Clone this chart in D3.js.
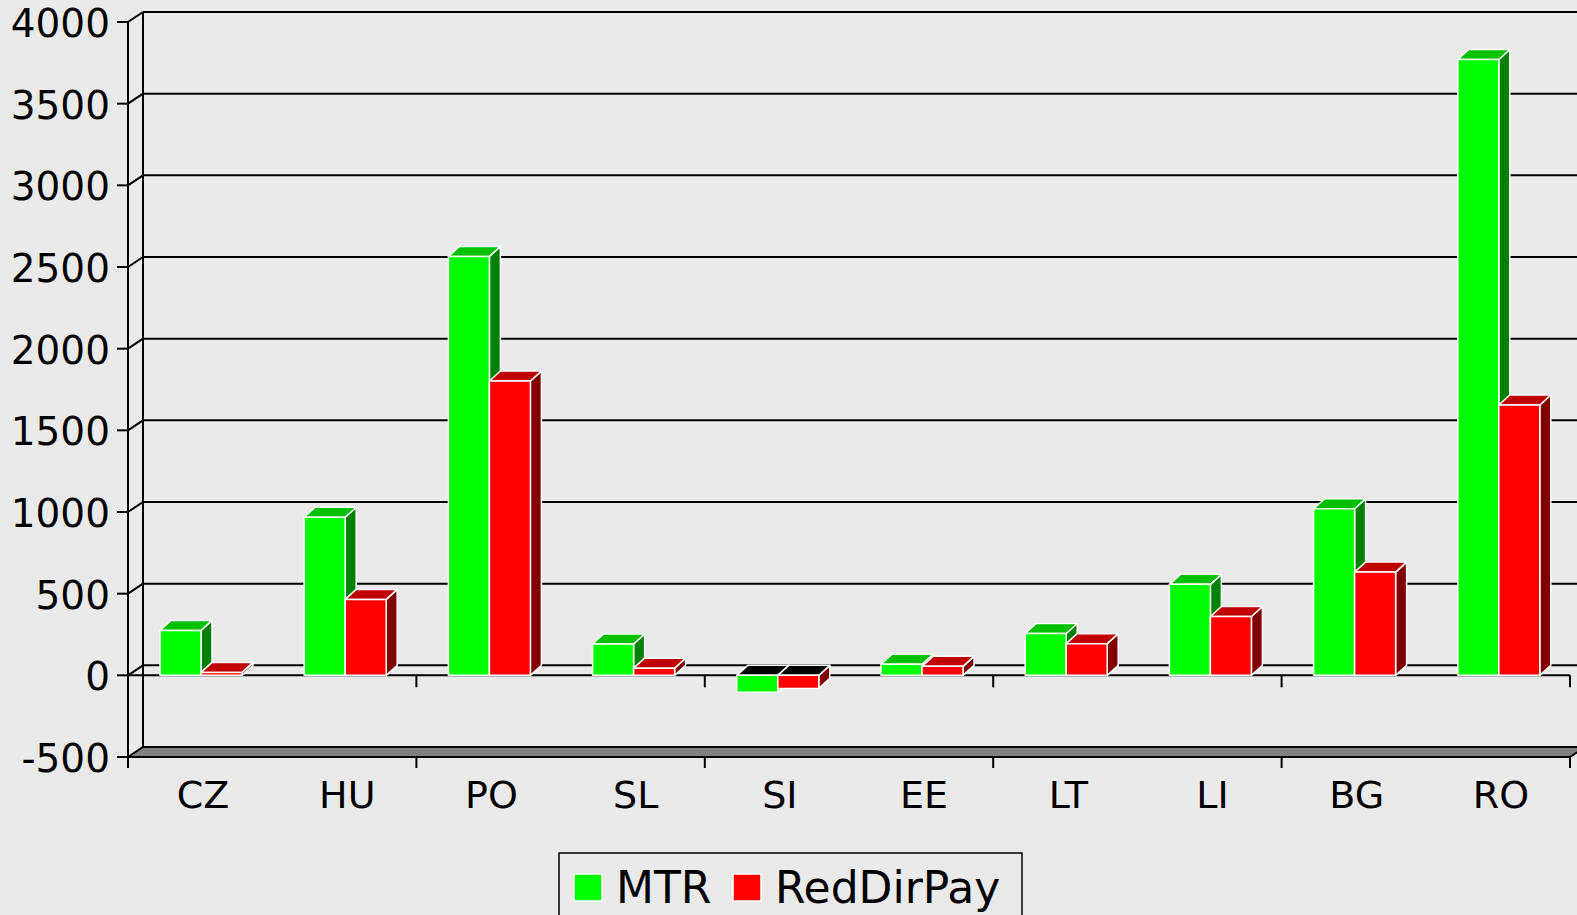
<!doctype html>
<html>
<head>
<meta charset="utf-8">
<script src="https://d3js.org/d3.v7.min.js"></script>
<style>
  body { margin: 0; background: #eaeaea; }
  text { font-family: "DejaVu Sans", Verdana, sans-serif; fill: #000; }
</style>
</head>
<body>
<script>
var categories = ["CZ", "HU", "PO", "SL", "SI", "EE", "LT", "LI", "BG", "RO"];
var mtr = [275, 968, 2565, 192, -104, 68, 256, 557, 1020, 3770];
var redDirPay = [18, 465, 1802, 44, -80, 55, 194, 360, 632, 1655];
var yTicks = [-500, 0, 500, 1000, 1500, 2000, 2500, 3000, 3500, 4000];
var seriesNames = ["MTR", "RedDirPay"];

var width = 1577, height = 915;
var wdx = 15, wdy = -10;   // wall depth
var bdx = 11, bdy = -10;   // bar depth

var styles = [
    { front: "#00ff00", top: "#00c000", side: "#008000" },
    { front: "#ff0000", top: "#c00000", side: "#800000" }
];

var svg = d3.select("body").append("svg")
    .attr("width", width)
    .attr("height", height);

svg.append("rect").attr("width", width).attr("height", height).attr("fill", "#eaeaea");

var y = d3.scaleLinear().domain([-500, 4000]).range([757, 22]);
var x = d3.scaleBand().domain(categories).range([128, 1570]);
var left = 128, right = 1570;

// back wall gridlines
var grid = svg.append("g").attr("stroke", "#000").attr("stroke-width", 2);
yTicks.filter(function(t) { return t > -500; }).forEach(function(t) {
    grid.append("line")
        .attr("x1", left + wdx).attr("x2", width)
        .attr("y1", y(t) + wdy).attr("y2", y(t) + wdy);
    grid.append("line")
        .attr("x1", left).attr("x2", left + wdx)
        .attr("y1", y(t)).attr("y2", y(t) + wdy);
});
grid.append("line")
    .attr("x1", left + wdx).attr("x2", left + wdx)
    .attr("y1", y(4000) + wdy).attr("y2", y(-500) + wdy);

// floor
svg.append("path")
    .attr("d", "M" + left + "," + y(-500) + "L" + (left + wdx) + "," + (y(-500) + wdy) +
        "L" + (width + 5) + "," + (y(-500) + wdy) + "L" + (right + wdx) + "," + (y(-500) + wdy) +
        "L" + right + "," + y(-500) + "Z")
    .attr("fill", "#808080")
    .attr("stroke", "#000").attr("stroke-width", 2);

// front y axis
grid.append("line")
    .attr("x1", left).attr("x2", left)
    .attr("y1", y(4000)).attr("y2", y(-500) + 11);
yTicks.forEach(function(t) {
    grid.append("line")
        .attr("x1", left - 11).attr("x2", left)
        .attr("y1", y(t)).attr("y2", y(t));
});
svg.append("g").selectAll("text")
    .data(yTicks)
    .enter()
        .append("text")
        .attr("x", 110)
        .attr("y", function(d) { return y(d) + 15; })
        .attr("text-anchor", "end")
        .attr("font-size", 39)
        .text(function(d) { return d; });

// front zero line and category ticks
grid.append("line")
    .attr("x1", left).attr("x2", right)
    .attr("y1", y(0)).attr("y2", y(0));
categories.forEach(function(c, i) {
    if (i % 2 === 0) {
        var xx = x(c);
        if (i > 0) grid.append("line").attr("x1", xx).attr("x2", xx).attr("y1", y(0)).attr("y2", y(0) + 12);
        grid.append("line").attr("x1", xx).attr("x2", xx).attr("y1", y(-500)).attr("y2", y(-500) + 11);
    }
});
grid.append("line").attr("x1", right).attr("x2", right).attr("y1", y(0)).attr("y2", y(0) + 12);
grid.append("line").attr("x1", right).attr("x2", right).attr("y1", y(-500)).attr("y2", y(-500) + 11);

// bars
var bw = 41;
var off = 32;
var bars = svg.append("g");
categories.forEach(function(c, i) {
    [mtr[i], redDirPay[i]].forEach(function(v, s) {
        var x0 = x(c) + off + s * bw, x1 = x0 + bw;
        var yt = y(Math.max(v, 0)), yb = y(Math.min(v, 0));
        var st = styles[s];
        var g = bars.append("g").attr("stroke", "#fff").attr("stroke-width", 1.5).attr("stroke-linejoin", "round");
        // side
        g.append("path")
            .attr("d", "M" + x1 + "," + yt + "L" + (x1 + bdx) + "," + (yt + bdy) +
                "L" + (x1 + bdx) + "," + (yb + bdy) + "L" + x1 + "," + yb + "Z")
            .attr("fill", st.side);
        // top
        g.append("path")
            .attr("d", "M" + x0 + "," + yt + "L" + (x0 + bdx) + "," + (yt + bdy) +
                "L" + (x1 + bdx) + "," + (yt + bdy) + "L" + x1 + "," + yt + "Z")
            .attr("fill", v < 0 ? "#000" : st.top);
        // front
        g.append("rect")
            .attr("x", x0).attr("y", yt)
            .attr("width", bw).attr("height", Math.max(yb - yt, 1))
            .attr("fill", st.front);
    });
});

// category labels
svg.append("g").selectAll("text")
    .data(categories)
    .enter()
        .append("text")
        .attr("x", function(d) { return x(d) + x.bandwidth() / 2 + 3; })
        .attr("y", 808)
        .attr("text-anchor", "middle")
        .attr("font-size", 38)
        .text(function(d) { return d; });

// legend
var legend = svg.append("g");
legend.append("rect")
    .attr("x", 559).attr("y", 853).attr("width", 463).attr("height", 80)
    .attr("fill", "none").attr("stroke", "#000").attr("stroke-width", 1.5);
var lx = [574, 733];
seriesNames.forEach(function(n, i) {
    legend.append("rect")
        .attr("x", lx[i]).attr("y", 874).attr("width", 28).attr("height", 27)
        .attr("fill", styles[i].front).attr("stroke", "#fff").attr("stroke-width", 1.5);
    legend.append("text")
        .attr("x", lx[i] + 42).attr("y", 903)
        .attr("font-size", 44)
        .text(n);
});
</script>
</body>
</html>
